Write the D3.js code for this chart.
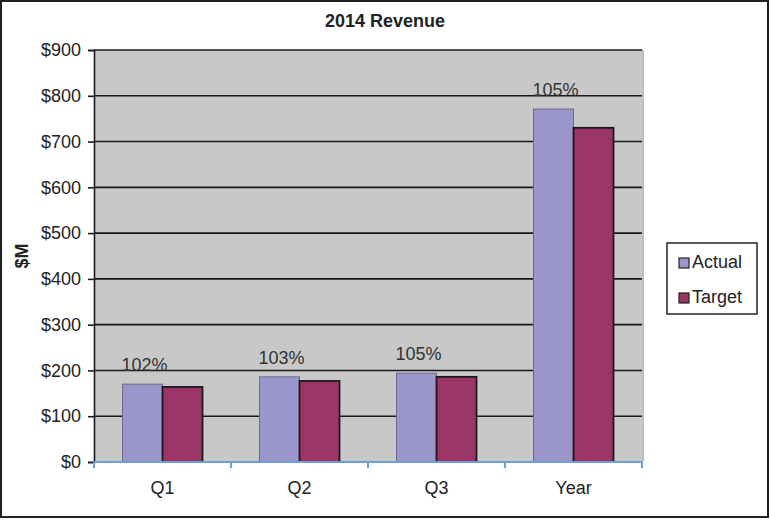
<!DOCTYPE html>
<html><head><meta charset="utf-8">
<script src="https://cdn.jsdelivr.net/npm/d3@7"></script>
<style>body{margin:0;background:#fff;}svg{display:block;font-family:Arial,"Liberation Sans",sans-serif;}</style>
</head><body><svg id="c" width="770" height="520"></svg>
<script>
const categories = ["Q1","Q2","Q3","Year"];
const seriesNames = ["Actual","Target"];
const actual = [170,186,194,771];
const target = [164,177,186,730];
const pctLabels = ["102%","103%","105%","105%"];
const yTicks = [0,100,200,300,400,500,600,700,800,900];

const svg = d3.select("#c");
const m = {l:94, r:642, t:50, b:462};
svg.append("rect").attr("x",1).attr("y",1).attr("width",767).attr("height",516).attr("fill","#fff").attr("stroke","#222").attr("stroke-width",2);

const x = d3.scaleBand().domain(categories).range([m.l,m.r]);
const y = d3.scaleLinear().domain([0,900]).range([m.b,m.t]);
const colors = ["#9a96cb","#9b3467"];

svg.append("rect").attr("x",m.l).attr("y",m.t).attr("width",m.r-m.l).attr("height",m.b-m.t).attr("fill","#c8c8c8");
svg.append("line").attr("x1",m.r+1).attr("x2",m.r+1).attr("y1",m.t).attr("y2",m.b).attr("stroke","#a8a8a8").attr("stroke-width",1.5);

// gridlines
svg.append("g").selectAll("line").data(yTicks.filter(d=>d>0)).join("line")
  .attr("x1",m.l).attr("x2",m.r).attr("y1",d=>y(d)).attr("y2",d=>y(d))
  .attr("stroke","#1a1a1a").attr("stroke-width",1.6);

// y axis
const ya = svg.append("g").attr("transform",`translate(${m.l},0)`)
  .call(d3.axisLeft(y).tickValues(yTicks).tickSize(6).tickPadding(7).tickFormat(d=>"$"+d));
ya.select(".domain").attr("stroke","#1a1a1a").attr("stroke-width",1.6);
ya.selectAll(".tick line").attr("stroke","#1a1a1a").attr("stroke-width",1.6);
ya.selectAll("text").attr("font-size",18).attr("fill","#222").attr("font-family","Arial,'Liberation Sans',sans-serif");

// bars
const bw = 40;
const data = categories.map((c,i)=>({c,vals:[actual[i],target[i]],lab:pctLabels[i]}));
const g = svg.append("g");
data.forEach(d=>{
  const cx = x(d.c)+x.bandwidth()/2;
  d.vals.forEach((v,j)=>{
    g.append("rect").attr("x",cx-bw+j*bw).attr("y",y(v)).attr("width",bw).attr("height",y(0)-y(v))
      .attr("fill",colors[j]).attr("stroke",j===0?"#6a6a8a":"#1a1a1a").attr("stroke-width",j===0?1:1.8);
  });
  g.append("text").attr("x",cx-bw/2+2).attr("y",y(d.vals[0])-13).attr("text-anchor","middle")
    .attr("font-size",18).attr("fill","#333").text(d.lab);
});

// x axis
const xa = svg.append("g").attr("transform",`translate(0,${m.b})`);
xa.append("line").attr("x1",m.l).attr("x2",m.r).attr("stroke","#6f9fd0").attr("stroke-width",2);
xa.selectAll("line.t").data(d3.range(categories.length+1)).join("line").attr("class","t")
  .attr("x1",i=>m.l+i*x.bandwidth()).attr("x2",i=>m.l+i*x.bandwidth()).attr("y1",0).attr("y2",6)
  .attr("stroke","#6f9fd0").attr("stroke-width",2);
xa.selectAll("text").data(categories).join("text").attr("x",d=>x(d)+x.bandwidth()/2).attr("y",32)
  .attr("text-anchor","middle").attr("font-size",18).attr("fill","#222").text(d=>d);

// title
svg.append("text").attr("x",385).attr("y",27).attr("text-anchor","middle").attr("font-size",18).attr("font-weight","bold").attr("fill","#222").text("2014 Revenue");
svg.append("text").attr("transform","translate(28,256) rotate(-90)").attr("text-anchor","middle").attr("font-size",18).attr("font-weight","bold").attr("fill","#222").text("$M");

// legend
const lg = svg.append("g");
lg.append("rect").attr("x",667).attr("y",243).attr("width",90).attr("height",71).attr("fill","#fff").attr("stroke","#222").attr("stroke-width",1.5);
seriesNames.forEach((s,i)=>{
  const yy = 268+i*35;
  lg.append("rect").attr("x",679).attr("y",yy-10).attr("width",10).attr("height",10).attr("fill",colors[i]).attr("stroke","#222").attr("stroke-width",1.2);
  lg.append("text").attr("x",692).attr("y",yy).attr("font-size",18).attr("fill","#222").text(s);
});
</script></body></html>
